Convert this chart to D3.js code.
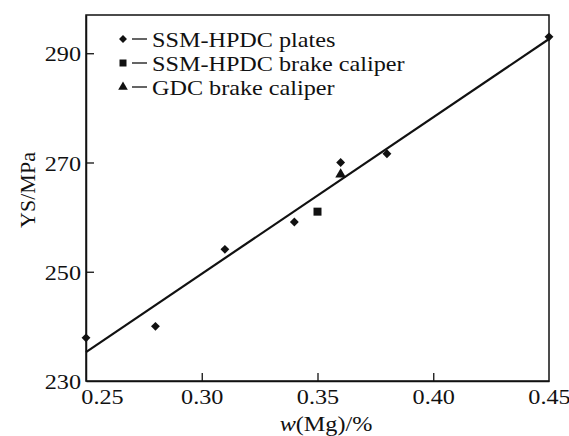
<!DOCTYPE html>
<html>
<head>
<meta charset="utf-8">
<script src="https://cdn.jsdelivr.net/npm/d3@7"></script>
<style>
  body { margin: 0; background: #fff; }
  svg text { font-family: "Liberation Serif", "Times New Roman", serif; fill: #111; }
</style>
</head>
<body>
<svg id="chart" width="569" height="436"></svg>
<script>
// data
var platesMg = [0.25, 0.28, 0.31, 0.34, 0.36, 0.38, 0.45];
var platesYS = [237.9, 240.0, 254.1, 259.1, 270.0, 271.6, 293.0];
var caliperSsmMg = [0.35];
var caliperSsmYS = [261.0];
var caliperGdcMg = [0.36];
var caliperGdcYS = [267.8];
var fitMg = [0.25, 0.45];
var fitYS = [235.3, 292.6];
var xTicks = [0.25, 0.30, 0.35, 0.40, 0.45];
var yTicks = [230, 250, 270, 290];
var legendLabels = ["SSM-HPDC plates", "SSM-HPDC brake caliper", "GDC brake caliper"];

var FONT = '"Liberation Serif", "Times New Roman", serif';
var FS = 22;       // font size
var SX = 1.1;      // the scan is a bit wider than tall

var svg = d3.select('#chart');
var margin = { top: 15, right: 20, bottom: 55, left: 86 };
var width = 569 - margin.left - margin.right;
var height = 436 - margin.top - margin.bottom;

var x = d3.scaleLinear().domain([0.25, 0.45]).range([0, width]);
var y = d3.scaleLinear().domain([230, 297]).range([height, 0]);

var g = svg.append('g').attr('transform', 'translate(' + margin.left + ',' + margin.top + ')');

// frame
g.append('rect')
    .attr('width', width)
    .attr('height', height)
    .attr('fill', 'none')
    .attr('stroke', '#111')
    .attr('stroke-width', 1.5);

// axes, ticks drawn inward
var xAxis = g.append('g')
    .attr('transform', 'translate(0,' + height + ')')
    .call(d3.axisBottom(x).tickValues(xTicks).tickSizeInner(-8).tickSizeOuter(0)
        .tickFormat(d3.format('.2f')));
var yAxis = g.append('g')
    .call(d3.axisLeft(y).tickValues(yTicks).tickSizeInner(-8).tickSizeOuter(0));

[xAxis, yAxis].forEach(function (a) {
    a.attr('font-family', FONT).attr('font-size', FS);
    a.select('.domain').attr('stroke', '#111').attr('stroke-width', 1.5);
    a.selectAll('.tick line').attr('stroke', '#111').attr('stroke-width', 1.3);
    a.selectAll('.tick text').attr('fill', '#111');
});
// place labels by hand (stretched a little)
xAxis.selectAll('.tick text')
    .attr('y', null).attr('dy', null)
    .attr('transform', function (d) {
        var off = d === 0.25 ? 16 : 0;   // first label nudged off the corner
        return 'translate(' + off + ',15) scale(' + SX + ',1)';
    })
    .attr('dy', '0.35em');
yAxis.selectAll('.tick text')
    .attr('x', null).attr('dy', '0.35em')
    .attr('transform', 'translate(-5,0) scale(' + SX + ',1)');
// keep the first and last tick clear of the frame
xAxis.selectAll('.tick line').filter(function (d) { return d === 0.25 || d === 0.45; }).remove();
yAxis.selectAll('.tick line').filter(function (d) { return d === 230; }).remove();

// fit line
var fit = fitMg.map(function (d, i) { return [d, fitYS[i]]; });
g.append('path')
    .datum(fit)
    .attr('fill', 'none')
    .attr('stroke', '#111')
    .attr('stroke-width', 2.2)
    .attr('d', d3.line().x(function (d) { return x(d[0]); }).y(function (d) { return y(d[1]); }));

// points
var sym = {
    diamond: d3.symbol().type(d3.symbolDiamond2).size(50),
    square: d3.symbol().type(d3.symbolSquare).size(64),
    triangle: d3.symbol().type(d3.symbolTriangle).size(50)
};
function drawPoints(xs, ys, s) {
    g.selectAll(null)
        .data(xs.map(function (d, i) { return [d, ys[i]]; }))
        .enter().append('path')
        .attr('d', s)
        .attr('fill', '#111')
        .attr('transform', function (d) { return 'translate(' + x(d[0]) + ',' + y(d[1]) + ')'; });
}
drawPoints(platesMg, platesYS, sym.diamond());
drawPoints(caliperSsmMg, caliperSsmYS, sym.square());
drawPoints(caliperGdcMg, caliperGdcYS, sym.triangle());

// legend
var legendSyms = [
    d3.symbol().type(d3.symbolDiamond2).size(40)(),
    d3.symbol().type(d3.symbolSquare).size(49)(),
    d3.symbol().type(d3.symbolTriangle).size(40)()
];
var legend = g.append('g').attr('transform', 'translate(37,24)');
legendLabels.forEach(function (lab, i) {
    var row = legend.append('g').attr('transform', 'translate(0,' + (i * 24) + ')');
    row.append('path').attr('d', legendSyms[i]).attr('fill', '#111');
    row.append('line').attr('x1', 9).attr('x2', 24).attr('y1', 0).attr('y2', 0)
        .attr('stroke', '#111').attr('stroke-width', 1.3);
    row.append('text')
        .attr('transform', 'translate(29,0) scale(' + SX + ',1)')
        .attr('dy', '0.35em')
        .attr('font-family', FONT)
        .style('font-size', FS + 'px')
        .text(lab);
});

// axis titles
svg.append('text')
    .attr('transform', 'translate(27,190) rotate(-90)')
    .attr('text-anchor', 'middle')
    .attr('dy', '0.35em')
    .attr('font-family', FONT)
    .style('font-size', FS + 'px')
    .text('YS/MPa');

var xt = svg.append('text')
    .attr('transform', 'translate(326,423) scale(' + SX + ',1)')
    .attr('text-anchor', 'middle')
    .attr('dy', '0.35em')
    .attr('font-family', FONT)
    .style('font-size', FS + 'px');
xt.append('tspan').style('font-style', 'italic').text('w');
xt.append('tspan').text('(Mg)/%');
</script>
</body>
</html>
